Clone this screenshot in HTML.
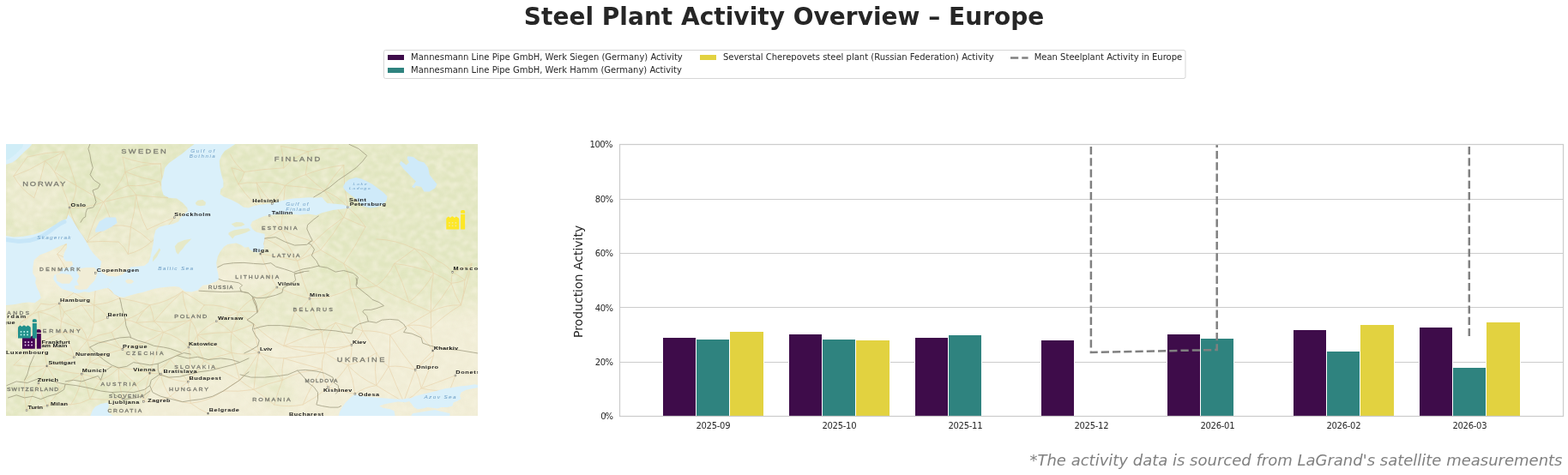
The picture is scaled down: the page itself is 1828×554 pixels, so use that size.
<!DOCTYPE html>
<html lang="en">
<head>
<meta charset="utf-8">
<title>Steel Plant Activity Overview – Europe</title>
<style>
html,body{margin:0;padding:0;background:#ffffff;}
body{width:1828px;height:554px;overflow:hidden;}
svg{display:block;}
text{font-family:"DejaVu Sans","Liberation Sans",sans-serif;fill:#262626;}
.ttl{font-size:28px;font-weight:bold;}
.tk{font-size:10px;}
.lg{font-size:10px;}
.yl{font-size:14px;}
.mc{font-family:"Liberation Sans",sans-serif;fill:#7a7a70;stroke:#7a7a70;stroke-width:0.25px;}
.ct{font-family:"Liberation Sans",sans-serif;fill:#1a1a1a;font-weight:bold;}
.wt{font-family:"Liberation Sans",sans-serif;fill:#6f9fc6;font-style:italic;}
.ft{font-size:18px;font-style:italic;fill:#808080;}
</style>
</head>
<body>
<svg width="1828" height="554" viewBox="0 0 1828 554">
<defs>
<clipPath id="axclip"><rect x="722.5" y="168.5" width="1100.0" height="317.0"/></clipPath>
<clipPath id="mapclip"><rect x="7" y="168" width="550" height="317"/></clipPath>
<filter id="noise" x="0" y="0" width="100%" height="100%" color-interpolation-filters="sRGB"><feTurbulence type="fractalNoise" baseFrequency="0.12 0.16" numOctaves="3" seed="7" result="n"/><feColorMatrix in="n" type="matrix" values="0 0 0 0 0.965  0 0 0 0 0.953  0 0 0 0 0.875  1.5 0 0 0 -0.55"/><feGaussianBlur stdDeviation="0.8"/></filter>
<filter id="blur0" x="-5%" y="-5%" width="110%" height="110%"><feGaussianBlur stdDeviation="0.35"/></filter>
<filter id="blur05" x="-5%" y="-5%" width="110%" height="110%"><feGaussianBlur stdDeviation="0.5"/></filter>
<filter id="blur4" x="-20%" y="-20%" width="140%" height="140%"><feGaussianBlur stdDeviation="5"/></filter>
<filter id="blur1" x="-5%" y="-5%" width="110%" height="110%"><feGaussianBlur stdDeviation="0.7"/></filter>
<filter id="blur8" x="-10%" y="-10%" width="120%" height="120%"><feGaussianBlur stdDeviation="9"/></filter>
</defs>
<rect x="0" y="0" width="1828" height="554" fill="#ffffff"/>
<text x="610.8" y="28.5" textLength="606.5" lengthAdjust="spacing" class="ttl">Steel Plant Activity Overview – Europe</text>
<g id="legend">
<rect x="447.5" y="58.5" width="934.5" height="33" rx="2" ry="2" fill="#ffffff" stroke="#cccccc" stroke-opacity="0.8" stroke-width="1"/>
<rect x="451.5" y="63.5" width="20" height="7" fill="#3e0c4a" stroke="#fff" stroke-width="1"/>
<rect x="451.5" y="78.5" width="20" height="7" fill="#2f837f" stroke="#fff" stroke-width="1"/>
<rect x="815.5" y="63.5" width="20" height="7" fill="#e2d240" stroke="#fff" stroke-width="1"/>
<path d="M1178,67.4 L1198.6,67.4" fill="none" stroke="#808080" stroke-width="2.5" stroke-dasharray="9.25 4"/>
<text x="479.1" y="70" class="lg">Mannesmann Line Pipe GmbH, Werk Siegen (Germany) Activity</text>
<text x="479.1" y="85" class="lg">Mannesmann Line Pipe GmbH, Werk Hamm (Germany) Activity</text>
<text x="842.9" y="70" class="lg">Severstal Cherepovets steel plant (Russian Federation) Activity</text>
<text x="1205.7" y="70" class="lg">Mean Steelplant Activity in Europe</text>
</g>
<g id="map" clip-path="url(#mapclip)">
<rect x="7" y="168" width="550" height="317" fill="#f1edd6"/>
<g filter="url(#blur8)"><path d="M-30.0,140.0 L600.0,140.0 L600.0,330.0 L520.0,338.0 L440.0,342.0 L400.0,338.0 L360.0,328.0 L330.0,312.0 L300.0,305.0 L250.0,305.0 L180.0,305.0 L120.0,300.0 L100.0,282.0 L-30.0,282.0Z" fill="#e1e6c0" /></g>
<g filter="url(#blur8)" opacity="0.65"><path d="M330.0,318.0 L440.0,335.0 L450.0,360.0 L420.0,385.0 L380.0,392.0 L330.0,390.0 L300.0,380.0 L290.0,350.0 L300.0,325.0Z" fill="#e1e6c0" /><path d="M-20.0,425.0 L60.0,430.0 L120.0,445.0 L170.0,450.0 L160.0,470.0 L120.0,478.0 L60.0,472.0 L20.0,500.0 L-20.0,500.0Z" fill="#e1e6c0" /><path d="M280.0,415.0 L310.0,420.0 L335.0,440.0 L345.0,470.0 L320.0,475.0 L300.0,450.0 L275.0,430.0Z" fill="#e1e6c0" /><path d="M440.0,335.0 L600.0,325.0 L600.0,350.0 L520.0,365.0 L460.0,370.0Z" fill="#e1e6c0" /></g>
<g filter="url(#blur8)" opacity="0.6"><path d="M-30.0,345.0 L60.0,348.0 L130.0,346.0 L250.0,342.0 L300.0,335.0 L300.0,395.0 L270.0,420.0 L250.0,440.0 L200.0,436.0 L180.0,450.0 L120.0,455.0 L60.0,450.0 L-30.0,450.0Z" fill="#e1e6c0" /><path d="M-30.0,430.0 L60.0,432.0 L130.0,440.0 L175.0,448.0 L170.0,468.0 L120.0,478.0 L60.0,474.0 L20.0,500.0 L-30.0,500.0Z" fill="#e1e6c0" /></g>
<g filter="url(#blur4)" opacity="0.5"><path d="M100.0,255.0 L215.0,235.0 L222.0,260.0 L182.0,300.0 L140.0,322.0 L115.0,310.0 L95.0,270.0Z" fill="#f1edd6" /><path d="M10.0,195.0 L40.0,185.0 L70.0,200.0 L75.0,235.0 L55.0,262.0 L25.0,268.0 L8.0,250.0Z" fill="#f1edd6" /><path d="M255.0,247.0 L372.0,250.0 L378.0,300.0 L345.0,338.0 L255.0,338.0Z" fill="#f1edd6" /><path d="M258.0,224.0 L378.0,226.0 L378.0,240.0 L290.0,245.0 L258.0,234.0Z" fill="#f1edd6" /></g>
<rect x="7" y="168" width="550" height="317" fill="#f6f3df" filter="url(#noise)"/>
<g id="roads" fill="none" stroke="#e6cca2" stroke-width="0.9" stroke-linecap="round" opacity="0.6" filter="url(#blur05)"><path d="M81.0,242.1 Q75.1,220.1 63.5,200.5"/><path d="M81.0,242.1 Q88.1,230.3 88.9,216.4"/><path d="M81.0,242.1 Q101.6,243.5 120.7,235.5"/><path d="M81.0,242.1 Q86.4,264.7 101.6,282.1"/><path d="M81.0,242.1 Q73.8,263.2 76.2,285.3"/><path d="M203.3,253.8 Q191.8,269.9 176.3,282.1"/><path d="M203.3,253.8 Q187.1,260.2 171.5,267.8"/><path d="M317.3,237.4 Q306.7,226.4 299.1,213.2"/><path d="M317.3,237.4 Q326.4,228.0 332.4,216.4"/><path d="M314.1,251.3 Q292.3,236.7 277.9,214.8"/><path d="M314.1,251.3 Q302.6,233.8 299.1,213.2"/><path d="M314.1,251.3 Q322.2,258.5 327.6,267.8"/><path d="M405.5,241.8 Q394.5,228.6 378.5,222.8"/><path d="M405.5,241.8 Q400.2,217.5 400.7,192.6"/><path d="M405.5,241.8 Q402.9,247.6 400.7,253.5"/><path d="M405.5,241.8 Q417.7,251.5 426.1,264.6"/><path d="M303.8,296.1 Q311.3,316.6 322.9,335.1"/><path d="M303.8,296.1 Q308.2,287.6 308.6,278.1"/><path d="M303.8,296.1 Q325.6,298.6 346.7,304.3"/><path d="M111.2,318.6 Q89.6,306.2 66.7,296.4"/><path d="M111.2,318.6 Q99.5,331.2 85.8,341.5"/><path d="M111.2,318.6 Q122.9,335.8 139.7,347.8"/><path d="M111.2,318.6 Q112.3,337.3 109.6,355.8"/><path d="M322.9,335.1 Q341.2,343.9 361.0,348.3"/><path d="M322.9,335.1 Q311.1,345.1 295.9,347.8"/><path d="M322.9,335.1 Q309.0,347.3 300.6,363.7"/><path d="M361.0,348.3 Q352.2,326.9 346.7,304.3"/><path d="M361.0,348.3 Q354.4,358.4 343.5,363.7"/><path d="M361.0,348.3 Q386.3,348.6 408.6,336.7"/><path d="M361.0,348.3 Q365.3,368.9 375.3,387.5"/><path d="M527.7,317.5 Q520.6,308.8 510.3,304.3"/><path d="M527.7,317.5 Q535.3,321.5 542.0,326.6"/><path d="M527.7,317.5 Q539.6,314.2 550.0,307.5"/><path d="M527.7,317.5 Q525.9,323.8 526.1,330.4"/><path d="M69.1,353.9 Q58.4,356.8 47.6,354.2"/><path d="M69.1,353.9 Q57.9,361.6 44.5,363.7"/><path d="M69.1,353.9 Q71.6,359.0 74.6,363.7"/><path d="M69.1,353.9 Q71.2,364.2 71.5,374.8"/><path d="M69.1,353.9 Q77.6,347.9 85.8,341.5"/><path d="M125.5,370.4 Q117.8,374.2 109.6,376.4"/><path d="M125.5,370.4 Q119.5,360.9 109.6,355.8"/><path d="M252.2,374.8 Q265.2,369.5 277.9,363.7"/><path d="M252.2,374.8 Q262.0,379.9 270.0,387.5"/><path d="M252.2,374.8 Q239.8,380.8 230.3,390.7"/><path d="M142.9,407.4 Q159.4,420.7 174.7,435.3"/><path d="M142.9,407.4 Q134.0,399.1 130.2,387.5"/><path d="M142.9,407.4 Q168.6,402.0 190.6,387.5"/><path d="M142.9,407.4 Q123.6,397.0 101.6,397.1"/><path d="M142.9,407.4 Q122.6,411.9 104.8,422.6"/><path d="M219.9,405.0 Q223.5,425.2 219.2,445.2"/><path d="M219.9,405.0 Q219.3,389.0 222.3,373.2"/><path d="M219.9,405.0 Q207.7,392.1 190.6,387.5"/><path d="M219.9,405.0 Q227.0,399.2 230.3,390.7"/><path d="M219.9,405.0 Q209.3,412.3 198.5,419.5"/><path d="M219.9,405.0 Q229.2,412.9 238.2,421.1"/><path d="M86.5,416.8 Q70.9,422.7 54.8,426.9"/><path d="M86.5,416.8 Q83.0,400.1 71.5,387.5"/><path d="M86.5,416.8 Q67.7,406.3 47.6,398.6"/><path d="M86.5,416.8 Q93.2,406.2 101.6,397.1"/><path d="M54.8,426.9 Q74.3,434.7 95.3,436.1"/><path d="M54.8,426.9 Q50.6,437.3 44.9,446.9"/><path d="M54.8,426.9 Q53.4,412.2 47.6,398.6"/><path d="M54.8,426.9 Q40.9,433.9 28.6,443.3"/><path d="M54.8,426.9 Q63.4,440.1 69.9,454.4"/><path d="M54.8,426.9 Q35.3,428.8 15.9,425.8"/><path d="M95.3,436.1 Q81.2,443.4 69.9,454.4"/><path d="M95.3,436.1 Q106.8,438.4 117.5,443.3"/><path d="M95.3,436.1 Q100.6,429.8 104.8,422.6"/><path d="M95.3,436.1 Q93.8,455.7 82.6,471.9"/><path d="M95.3,436.1 Q102.1,450.2 104.8,465.5"/><path d="M174.7,435.3 Q181.0,435.6 187.4,436.1"/><path d="M174.7,435.3 Q169.7,451.6 167.5,468.4"/><path d="M174.7,435.3 Q180.6,410.8 190.6,387.5"/><path d="M174.7,435.3 Q156.8,429.7 138.2,429.0"/><path d="M174.7,435.3 Q167.3,442.4 158.8,448.1"/><path d="M174.7,435.3 Q188.2,429.9 198.5,419.5"/><path d="M187.4,436.1 Q202.1,444.9 219.2,445.2"/><path d="M187.4,436.1 Q177.3,452.2 167.5,468.4"/><path d="M187.4,436.1 Q191.4,426.8 198.5,419.5"/><path d="M187.4,436.1 Q189.7,450.6 198.5,462.3"/><path d="M219.2,445.2 Q210.2,431.2 198.5,419.5"/><path d="M219.2,445.2 Q230.2,434.4 238.2,421.1"/><path d="M219.2,445.2 Q208.4,453.3 198.5,462.3"/><path d="M219.2,445.2 Q221.3,457.7 222.3,470.3"/><path d="M44.9,446.9 Q48.0,460.8 55.1,473.1"/><path d="M44.9,446.9 Q36.0,462.0 31.0,478.7"/><path d="M55.1,473.1 Q42.8,474.9 31.0,478.7"/><path d="M55.1,473.1 Q63.5,464.5 69.9,454.4"/><path d="M55.1,473.1 Q68.7,469.0 82.6,471.9"/><path d="M31.0,478.7 Q27.1,461.2 28.6,443.3"/><path d="M143.7,465.5 Q137.7,447.8 138.2,429.0"/><path d="M143.7,465.5 Q149.0,454.8 158.8,448.1"/><path d="M143.7,465.5 Q124.3,466.8 104.8,465.5"/><path d="M167.5,468.4 Q163.7,458.0 158.8,448.1"/><path d="M167.5,468.4 Q183.7,468.9 198.5,462.3"/><path d="M242.7,482.2 Q231.8,477.5 222.3,470.3"/><path d="M301.9,411.1 Q283.4,402.7 270.0,387.5"/><path d="M301.9,411.1 Q297.7,394.7 295.9,378.0"/><path d="M301.9,411.1 Q286.0,414.9 270.0,411.5"/><path d="M301.9,411.1 Q292.2,428.2 279.5,443.3"/><path d="M301.9,411.1 Q315.5,418.2 330.8,417.9"/><path d="M301.9,411.1 Q316.3,426.6 329.2,443.3"/><path d="M301.9,411.1 Q297.2,432.5 295.9,454.4"/><path d="M409.9,402.3 Q394.5,406.8 378.5,405.0"/><path d="M409.9,402.3 Q401.0,389.0 391.2,376.4"/><path d="M409.9,402.3 Q418.6,395.8 422.9,385.9"/><path d="M409.9,402.3 Q394.6,408.2 378.5,411.5"/><path d="M409.9,402.3 Q411.0,414.7 405.5,425.8"/><path d="M504.7,409.0 Q493.7,419.5 484.1,431.4"/><path d="M504.7,409.0 Q493.2,391.1 475.3,379.6"/><path d="M504.7,409.0 Q503.0,395.9 502.3,382.8"/><path d="M504.7,409.0 Q505.4,411.8 505.5,414.7"/><path d="M484.1,431.4 Q468.0,412.0 454.7,390.7"/><path d="M484.1,431.4 Q469.0,425.8 453.1,427.4"/><path d="M484.1,431.4 Q489.1,441.6 491.2,452.8"/><path d="M484.1,431.4 Q477.4,450.1 470.6,468.7"/><path d="M484.1,431.4 Q493.9,422.0 505.5,414.7"/><path d="M530.9,438.0 Q511.1,445.5 491.2,452.8"/><path d="M530.9,438.0 Q527.8,446.3 524.6,454.4"/><path d="M413.9,459.5 Q398.0,456.1 382.4,451.7"/><path d="M413.9,459.5 Q412.3,442.0 405.5,425.8"/><path d="M413.9,459.5 Q425.0,451.2 438.8,449.6"/><path d="M382.4,451.7 Q377.5,441.6 375.3,430.6"/><path d="M382.4,451.7 Q396.0,440.6 405.5,425.8"/><path d="M382.4,451.7 Q369.1,463.7 353.1,471.9"/><path d="M31.8,183.1 Q52.8,177.4 74.6,176.7"/><path d="M31.8,183.1 Q24.0,194.3 15.9,205.3"/><path d="M52.4,187.8 Q63.8,182.9 74.6,176.7"/><path d="M52.4,187.8 Q59.3,193.0 63.5,200.5"/><path d="M52.4,187.8 Q35.1,198.6 15.9,205.3"/><path d="M52.4,187.8 Q48.0,209.8 39.7,230.7"/><path d="M74.6,176.7 Q68.9,188.5 63.5,200.5"/><path d="M74.6,176.7 Q83.3,196.0 88.9,216.4"/><path d="M63.5,200.5 Q75.8,209.1 88.9,216.4"/><path d="M88.9,216.4 Q105.0,225.5 120.7,235.5"/><path d="M120.7,235.5 Q137.2,220.8 146.1,200.5"/><path d="M120.7,235.5 Q132.4,222.0 149.3,216.4"/><path d="M120.7,235.5 Q139.6,230.7 158.8,227.5"/><path d="M120.7,235.5 Q108.4,257.7 101.6,282.1"/><path d="M120.7,235.5 Q126.4,249.2 131.8,263.1"/><path d="M142.9,183.1 Q145.1,191.7 146.1,200.5"/><path d="M142.9,183.1 Q164.4,191.4 187.4,191.0"/><path d="M146.1,200.5 Q148.6,208.3 149.3,216.4"/><path d="M146.1,200.5 Q165.6,190.7 187.4,191.0"/><path d="M146.1,200.5 Q165.3,208.2 185.8,211.6"/><path d="M149.3,216.4 Q154.7,221.4 158.8,227.5"/><path d="M149.3,216.4 Q168.1,218.2 185.8,211.6"/><path d="M158.8,227.5 Q177.0,229.6 195.3,230.7"/><path d="M158.8,227.5 Q157.4,246.4 152.5,264.6"/><path d="M158.8,227.5 Q161.6,248.8 171.5,267.8"/><path d="M187.4,191.0 Q187.8,211.6 195.3,230.7"/><path d="M185.8,211.6 Q189.7,221.6 195.3,230.7"/><path d="M15.9,205.3 Q24.4,221.2 39.7,230.7"/><path d="M270.0,195.8 Q272.9,205.7 277.9,214.8"/><path d="M270.0,195.8 Q277.7,197.0 284.8,200.5"/><path d="M277.9,214.8 Q283.1,208.5 284.8,200.5"/><path d="M277.9,214.8 Q288.3,211.9 299.1,213.2"/><path d="M268.4,179.9 Q274.2,192.1 284.8,200.5"/><path d="M284.8,200.5 Q307.7,197.0 330.8,195.8"/><path d="M299.1,213.2 Q316.1,210.6 332.4,216.4"/><path d="M330.8,195.8 Q342.8,182.8 359.4,176.7"/><path d="M330.8,195.8 Q331.0,182.8 327.6,170.4"/><path d="M332.4,216.4 Q343.0,207.6 356.2,203.7"/><path d="M332.4,216.4 Q355.8,217.2 378.5,222.8"/><path d="M332.4,216.4 Q330.2,242.1 327.6,267.8"/><path d="M359.4,176.7 Q358.8,190.3 356.2,203.7"/><path d="M359.4,176.7 Q376.6,171.7 394.3,173.5"/><path d="M359.4,176.7 Q343.5,173.5 327.6,170.4"/><path d="M356.2,203.7 Q367.1,213.6 378.5,222.8"/><path d="M356.2,203.7 Q377.7,195.2 400.7,192.6"/><path d="M378.5,222.8 Q387.5,206.1 400.7,192.6"/><path d="M378.5,222.8 Q389.4,238.2 400.7,253.5"/><path d="M101.6,282.1 Q119.9,280.8 138.2,282.1"/><path d="M101.6,282.1 Q115.0,269.9 131.8,263.1"/><path d="M101.6,282.1 Q88.8,282.6 76.2,285.3"/><path d="M138.2,282.1 Q145.4,288.0 149.3,296.4"/><path d="M152.5,264.6 Q165.6,271.6 176.3,282.1"/><path d="M152.5,264.6 Q151.0,280.5 149.3,296.4"/><path d="M152.5,264.6 Q142.3,262.1 131.8,263.1"/><path d="M176.3,282.1 Q164.6,292.6 149.3,296.4"/><path d="M66.7,296.4 Q72.0,291.3 76.2,285.3"/><path d="M66.7,296.4 Q81.1,316.9 85.8,341.5"/><path d="M308.6,278.1 Q318.6,273.9 327.6,267.8"/><path d="M308.6,278.1 Q330.3,287.4 346.7,304.3"/><path d="M365.8,282.1 Q370.1,286.6 373.7,291.6"/><path d="M365.8,282.1 Q381.9,266.2 400.7,253.5"/><path d="M365.8,282.1 Q346.1,276.6 327.6,267.8"/><path d="M365.8,282.1 Q358.5,295.2 346.7,304.3"/><path d="M373.7,291.6 Q388.8,273.7 400.7,253.5"/><path d="M373.7,291.6 Q387.5,299.1 400.7,307.5"/><path d="M373.7,291.6 Q360.1,297.9 346.7,304.3"/><path d="M400.7,253.5 Q413.2,259.6 426.1,264.6"/><path d="M426.1,264.6 Q414.7,286.8 400.7,307.5"/><path d="M400.7,307.5 Q408.4,321.1 408.6,336.7"/><path d="M400.7,307.5 Q419.9,320.3 438.8,333.5"/><path d="M483.3,290.1 Q498.8,293.4 510.3,304.3"/><path d="M483.3,290.1 Q462.3,279.6 438.8,278.9"/><path d="M483.3,290.1 Q471.7,299.3 459.5,307.5"/><path d="M483.3,290.1 Q497.6,301.9 505.5,318.6"/><path d="M542.0,326.6 Q545.4,316.8 550.0,307.5"/><path d="M542.0,326.6 Q534.5,330.0 526.1,330.4"/><path d="M542.0,326.6 Q541.5,341.5 537.3,355.8"/><path d="M459.5,307.5 Q483.3,309.7 505.5,318.6"/><path d="M459.5,307.5 Q452.5,323.2 438.8,333.5"/><path d="M459.5,307.5 Q469.8,329.4 476.9,352.6"/><path d="M327.6,267.8 Q335.3,287.1 346.7,304.3"/><path d="M550.0,307.5 Q544.0,331.7 537.3,355.8"/><path d="M505.5,318.6 Q494.8,338.7 476.9,352.6"/><path d="M505.5,318.6 Q516.5,323.3 526.1,330.4"/><path d="M505.5,318.6 Q501.0,341.0 502.3,363.7"/><path d="M47.6,354.2 Q38.7,368.5 23.8,376.4"/><path d="M44.5,363.7 Q59.3,366.1 71.5,374.8"/><path d="M44.5,363.7 Q32.5,367.3 23.8,376.4"/><path d="M44.5,363.7 Q47.9,381.0 47.6,398.6"/><path d="M74.6,363.7 Q73.7,369.5 71.5,374.8"/><path d="M74.6,363.7 Q85.4,361.0 95.3,355.8"/><path d="M74.6,363.7 Q84.0,374.2 95.3,382.8"/><path d="M71.5,374.8 Q83.0,379.8 95.3,382.8"/><path d="M71.5,374.8 Q69.8,381.2 71.5,387.5"/><path d="M95.3,355.8 Q102.9,365.7 109.6,376.4"/><path d="M95.3,355.8 Q102.4,357.7 109.6,355.8"/><path d="M85.8,341.5 Q98.3,347.6 109.6,355.8"/><path d="M109.6,376.4 Q109.5,366.1 109.6,355.8"/><path d="M109.6,376.4 Q108.2,387.7 101.6,397.1"/><path d="M95.3,382.8 Q84.0,388.1 71.5,387.5"/><path d="M95.3,382.8 Q100.2,389.1 101.6,397.1"/><path d="M71.5,387.5 Q59.8,393.7 47.6,398.6"/><path d="M71.5,387.5 Q87.7,388.5 101.6,397.1"/><path d="M139.7,347.8 Q125.4,354.5 109.6,355.8"/><path d="M139.7,347.8 Q157.4,350.8 174.7,355.8"/><path d="M146.1,373.2 Q139.8,382.2 130.2,387.5"/><path d="M146.1,373.2 Q152.8,373.4 158.8,376.4"/><path d="M146.1,373.2 Q162.5,367.9 174.7,355.8"/><path d="M179.5,374.8 Q201.0,378.3 222.3,373.2"/><path d="M179.5,374.8 Q186.7,379.7 190.6,387.5"/><path d="M179.5,374.8 Q169.1,375.7 158.8,376.4"/><path d="M179.5,374.8 Q194.9,356.2 212.8,339.9"/><path d="M179.5,374.8 Q178.3,365.0 174.7,355.8"/><path d="M222.3,373.2 Q207.2,382.1 190.6,387.5"/><path d="M222.3,373.2 Q231.9,365.9 238.2,355.8"/><path d="M222.3,373.2 Q214.0,357.6 212.8,339.9"/><path d="M222.3,373.2 Q228.3,381.0 230.3,390.7"/><path d="M130.2,387.5 Q115.1,389.7 101.6,397.1"/><path d="M190.6,387.5 Q173.5,385.3 158.8,376.4"/><path d="M158.8,376.4 Q164.3,364.2 174.7,355.8"/><path d="M238.2,355.8 Q225.8,347.3 212.8,339.9"/><path d="M238.2,355.8 Q259.0,354.9 277.9,363.7"/><path d="M212.8,339.9 Q195.8,352.6 174.7,355.8"/><path d="M277.9,363.7 Q275.4,376.1 270.0,387.5"/><path d="M277.9,363.7 Q285.1,353.7 295.9,347.8"/><path d="M277.9,363.7 Q289.3,362.5 300.6,363.7"/><path d="M277.9,363.7 Q286.7,371.1 295.9,378.0"/><path d="M270.0,387.5 Q250.0,387.4 230.3,390.7"/><path d="M270.0,387.5 Q283.1,383.3 295.9,378.0"/><path d="M270.0,387.5 Q267.8,399.5 270.0,411.5"/><path d="M230.3,390.7 Q230.4,406.9 238.2,421.1"/><path d="M230.3,390.7 Q248.9,403.3 270.0,411.5"/><path d="M23.8,376.4 Q19.9,384.7 19.1,393.9"/><path d="M23.8,376.4 Q38.0,385.1 47.6,398.6"/><path d="M47.6,398.6 Q30.4,410.7 15.9,425.8"/><path d="M101.6,397.1 Q106.4,409.5 104.8,422.6"/><path d="M295.9,347.8 Q298.0,355.8 300.6,363.7"/><path d="M295.9,378.0 Q310.8,394.2 330.8,403.4"/><path d="M330.8,403.4 Q354.6,405.7 378.5,405.0"/><path d="M330.8,403.4 Q336.4,383.3 343.5,363.7"/><path d="M330.8,403.4 Q352.3,393.4 375.3,387.5"/><path d="M330.8,403.4 Q353.9,411.8 378.5,411.5"/><path d="M378.5,405.0 Q381.6,389.3 391.2,376.4"/><path d="M378.5,405.0 Q375.3,396.5 375.3,387.5"/><path d="M378.5,405.0 Q378.6,408.3 378.5,411.5"/><path d="M343.5,363.7 Q357.4,378.2 375.3,387.5"/><path d="M391.2,376.4 Q381.9,380.1 375.3,387.5"/><path d="M391.2,376.4 Q407.2,380.6 422.9,385.9"/><path d="M408.6,336.7 Q424.0,337.4 438.8,333.5"/><path d="M408.6,336.7 Q415.3,361.4 422.9,385.9"/><path d="M438.8,333.5 Q457.4,344.1 476.9,352.6"/><path d="M476.9,352.6 Q489.9,357.6 502.3,363.7"/><path d="M475.3,379.6 Q489.2,377.6 502.3,382.8"/><path d="M475.3,379.6 Q488.7,371.5 502.3,363.7"/><path d="M475.3,379.6 Q465.3,385.8 454.7,390.7"/><path d="M502.3,382.8 Q518.1,367.1 537.3,355.8"/><path d="M502.3,382.8 Q502.7,373.2 502.3,363.7"/><path d="M526.1,330.4 Q529.9,343.8 537.3,355.8"/><path d="M526.1,330.4 Q515.6,348.0 502.3,363.7"/><path d="M537.3,355.8 Q518.7,355.0 502.3,363.7"/><path d="M454.7,390.7 Q439.3,385.2 422.9,385.9"/><path d="M454.7,390.7 Q454.9,409.1 453.1,427.4"/><path d="M422.9,385.9 Q430.9,398.7 438.8,411.5"/><path d="M117.5,443.3 Q129.4,438.5 138.2,429.0"/><path d="M117.5,443.3 Q109.3,453.3 104.8,465.5"/><path d="M104.8,422.6 Q121.2,427.5 138.2,429.0"/><path d="M138.2,429.0 Q147.8,439.2 158.8,448.1"/><path d="M238.2,421.1 Q253.8,415.2 270.0,411.5"/><path d="M238.2,421.1 Q258.3,433.2 279.5,443.3"/><path d="M270.0,411.5 Q275.7,427.1 279.5,443.3"/><path d="M260.4,456.0 Q243.3,468.2 222.3,470.3"/><path d="M260.4,456.0 Q269.6,449.0 279.5,443.3"/><path d="M260.4,456.0 Q278.3,457.2 295.9,454.4"/><path d="M198.5,462.3 Q209.3,469.5 222.3,470.3"/><path d="M82.6,471.9 Q94.4,471.3 104.8,465.5"/><path d="M279.5,443.3 Q287.2,449.6 295.9,454.4"/><path d="M330.8,417.9 Q327.9,430.5 329.2,443.3"/><path d="M330.8,417.9 Q354.8,416.0 378.5,411.5"/><path d="M330.8,417.9 Q353.0,424.5 375.3,430.6"/><path d="M329.2,443.3 Q350.8,431.5 375.3,430.6"/><path d="M329.2,443.3 Q323.8,457.4 319.7,471.9"/><path d="M329.2,443.3 Q311.9,446.8 295.9,454.4"/><path d="M378.5,411.5 Q374.6,420.7 375.3,430.6"/><path d="M378.5,411.5 Q391.1,420.3 405.5,425.8"/><path d="M375.3,430.6 Q362.2,450.2 353.1,471.9"/><path d="M405.5,425.8 Q419.5,441.4 438.8,449.6"/><path d="M405.5,425.8 Q423.5,421.8 438.8,411.5"/><path d="M438.8,449.6 Q446.6,439.0 453.1,427.4"/><path d="M438.8,449.6 Q454.6,459.3 470.6,468.7"/><path d="M438.8,449.6 Q436.0,430.6 438.8,411.5"/><path d="M453.1,427.4 Q461.3,448.3 470.6,468.7"/><path d="M453.1,427.4 Q443.7,421.5 438.8,411.5"/><path d="M491.2,452.8 Q482.3,462.6 470.6,468.7"/><path d="M491.2,452.8 Q507.7,457.3 524.6,454.4"/><path d="M491.2,452.8 Q499.6,434.2 505.5,414.7"/><path d="M353.1,471.9 Q336.4,475.5 319.7,471.9"/><path d="M319.7,471.9 Q308.1,462.8 295.9,454.4"/></g>
<g filter="url(#blur1)">
<path d="M0.0,164.0 L37.3,168.3 L34.1,171.9 L28.6,176.7 L23.8,181.5 L19.1,186.2 L14.3,189.4 L7.1,191.8 L0.0,191.8Z" fill="#daf0fa" />
<path d="M226.3,160.0 L226.3,168.3 L219.1,173.5 L212.8,179.1 L204.9,184.6 L196.9,190.2 L192.2,195.8 L190.6,203.7 L188.2,211.6 L188.2,219.6 L190.6,227.5 L196.9,230.7 L206.0,231.6 L213.2,236.7 L218.3,242.4 L219.0,246.1 L214.7,249.7 L210.3,254.0 L208.2,258.3 L201.7,261.2 L193.0,262.7 L185.8,264.8 L181.4,268.5 L179.5,275.8 L178.7,283.7 L177.1,291.6 L175.5,299.6 L173.1,305.9 L168.3,309.9 L160.4,310.7 L152.5,311.5 L147.7,315.5 L142.9,320.2 L135.0,322.6 L128.0,330.0 L125.7,335.9 L130.0,338.8 L132.9,343.1 L138.7,346.0 L144.5,346.7 L151.7,344.6 L158.9,342.4 L166.1,340.9 L173.4,338.8 L180.0,336.8 L187.2,335.6 L194.4,334.8 L203.1,334.1 L208.9,334.8 L211.8,337.0 L216.1,339.9 L223.3,340.6 L230.6,338.5 L233.5,335.6 L236.3,332.7 L242.1,332.0 L247.9,329.8 L252.2,328.3 L255.1,325.5 L254.4,319.7 L253.0,313.9 L252.2,306.7 L253.7,299.4 L256.6,293.7 L260.9,287.9 L265.2,285.0 L269.6,284.3 L275.3,283.6 L281.1,285.8 L285.5,288.7 L289.8,288.0 L291.2,290.8 L295.6,293.7 L301.4,294.4 L307.1,290.8 L307.9,287.0 L307.1,284.3 L308.6,278.6 L308.6,272.8 L304.2,272.1 L298.5,270.6 L294.1,267.0 L292.0,262.7 L294.1,258.3 L299.9,255.5 L307.1,252.6 L312.9,251.1 L318.7,250.4 L327.4,249.7 L338.9,249.7 L350.5,250.4 L359.4,249.5 L368.9,251.1 L375.3,248.2 L388.0,245.0 L400.7,243.4 L408.6,242.6 L408.6,241.0 L405.5,240.5 L399.1,238.6 L391.2,237.8 L381.6,237.1 L378.5,233.9 L375.3,229.9 L368.9,230.7 L360.0,230.2 L350.5,230.9 L341.8,231.6 L333.1,233.1 L324.5,235.2 L317.2,237.4 L310.0,238.1 L302.8,238.8 L295.6,240.3 L289.8,242.4 L284.0,241.7 L278.2,237.4 L269.6,233.1 L260.9,229.4 L256.6,226.6 L257.3,220.8 L260.4,218.0 L260.4,211.6 L258.1,203.7 L256.5,195.8 L255.7,187.8 L258.1,181.5 L262.0,175.9 L268.4,171.9 L273.9,168.3 L273.9,160.0Z" fill="#daf0fa" />
<path d="M0.0,275.0 L7.0,275.0 L15.9,276.6 L27.0,275.8 L39.7,273.4 L50.8,269.4 L60.3,264.6 L69.9,259.9 L77.8,255.1 L79.4,250.4 L82.6,253.5 L86.6,259.9 L91.3,267.8 L96.9,275.8 L101.6,283.7 L104.8,290.1 L109.6,296.4 L114.3,301.2 L118.3,305.1 L117.5,309.1 L116.7,313.9 L119.1,318.6 L125.5,321.8 L135.0,322.6 L128.0,330.0 L125.7,335.9 L121.4,336.6 L115.6,338.1 L109.8,339.5 L104.0,340.9 L98.2,340.2 L92.5,341.7 L86.7,341.7 L83.8,340.2 L78.0,338.8 L72.2,337.0 L67.9,333.0 L63.6,328.0 L62.1,324.9 L63.6,320.6 L69.3,319.1 L72.2,313.3 L80.9,311.9 L85.2,309.0 L83.8,304.7 L76.6,304.7 L73.7,300.3 L75.1,294.6 L78.0,288.8 L78.0,283.7 L69.3,287.3 L57.8,293.1 L46.2,297.4 L39.7,303.2 L38.3,311.9 L38.3,319.1 L41.9,324.3 L41.2,330.1 L43.3,335.9 L46.2,341.7 L47.7,347.4 L44.8,350.3 L40.5,353.2 L33.2,352.5 L26.0,353.2 L18.8,354.7 L13.0,355.4 L7.2,356.1 L0.0,356.0Z" fill="#daf0fa" />
<path d="M394.4,486.6 L395.9,480.8 L398.8,475.0 L403.1,469.2 L408.9,463.5 L413.9,459.8 L420.5,462.0 L429.1,462.7 L437.8,463.5 L446.5,464.2 L455.1,464.9 L462.3,465.6 L469.6,465.6 L476.8,464.2 L479.7,464.9 L478.2,467.8 L472.5,469.2 L463.8,468.5 L455.1,470.0 L447.9,471.4 L442.1,473.6 L446.5,475.7 L455.1,477.2 L459.5,479.3 L460.9,486.6Z" fill="#daf0fa" />
<path d="M478.2,464.9 L484.0,462.0 L492.7,459.8 L501.4,457.7 L510.0,455.5 L518.7,453.3 L527.4,451.9 L536.0,450.5 L544.7,449.7 L553.4,448.3 L557.0,449.0 L557.0,451.9 L550.5,453.3 L543.2,454.8 L537.5,457.7 L536.0,462.0 L537.5,464.9 L533.1,467.8 L528.8,469.2 L527.4,473.6 L521.6,475.0 L514.4,475.0 L510.0,476.5 L504.2,475.7 L498.5,475.0 L492.7,476.5 L486.9,477.2 L482.6,475.0 L479.7,470.7 L476.8,467.8Z" fill="#daf0fa" />
<path d="M478.2,486.6 L481.1,482.2 L489.8,480.8 L498.5,479.3 L507.1,477.9 L511.5,479.3 L518.7,480.8 L524.5,482.2 L524.5,486.6Z" fill="#daf0fa" />
<path d="M104.8,486.2 L108.0,478.2 L111.2,474.3 L117.5,471.1 L125.5,469.5 L127.0,473.5 L125.5,478.2 L127.0,481.4 L133.4,486.2Z" fill="#daf0fa" />
<path d="M399.9,218.0 L402.3,213.2 L407.0,209.3 L415.0,206.9 L421.3,208.5 L427.7,211.6 L434.0,214.8 L440.4,219.6 L446.7,224.3 L451.5,229.1 L450.7,233.9 L446.7,238.6 L438.8,241.8 L430.9,242.6 L422.9,240.2 L418.2,235.5 L413.4,230.7 L407.0,225.9 L402.3,222.0Z" fill="#cfeaf9" />
<path d="M475.3,182.3 L481.7,183.1 L488.0,187.8 L494.4,189.4 L499.2,195.8 L500.7,203.7 L505.5,210.1 L509.5,214.8 L507.1,219.6 L500.7,223.6 L494.4,223.6 L491.2,218.0 L484.9,216.4 L483.3,219.6 L480.1,218.0 L484.9,211.6 L480.1,206.9 L475.3,202.1 L470.6,197.3 L465.8,191.0 L467.4,187.8 L473.7,192.6 L476.9,189.4 L474.5,184.6Z" fill="#cfeaf9" />
<path d="M111.2,267.8 L115.9,258.3 L123.9,253.5 L135.0,253.5 L136.6,259.9 L130.2,264.6 L120.7,269.4 L111.2,271.0Z" fill="#cfeaf9" />
<g filter="url(#blur1)" opacity="0.9"><path d="M7.0,279.5 L14.0,280.5 L22.0,281.6 L34.0,280.6 L43.0,278.0 L51.0,274.5 L58.0,269.5 L64.0,265.0 L70.0,261.0 L75.0,258.5" fill="none" stroke="#c6e6f8" stroke-width="5.0" stroke-linejoin="round" stroke-linecap="round" /><path d="M0.0,160.0 L30.0,160.0 L26.0,172.0 L18.0,180.0 L10.0,186.0 L0.0,188.0Z" fill="#cfedf7" /></g>
<path d="M65.0,320.6 L72.2,319.1 L82.3,320.6 L85.2,324.9 L80.9,330.7 L72.2,330.7 L66.5,327.8Z" fill="#f1edd6" />
<path d="M92.5,313.3 L101.1,311.9 L109.8,311.9 L114.1,316.2 L112.7,322.0 L109.8,327.8 L104.0,333.6 L99.7,336.5 L92.5,333.6 L89.6,327.8 L92.5,322.0 L89.6,317.7Z" fill="#f1edd6" />
<path d="M86.7,333.6 L95.3,332.1 L104.0,334.3 L101.1,337.2 L92.5,337.9 L87.4,336.5Z" fill="#f1edd6" />
<path d="M145.9,327.8 L148.8,325.6 L153.9,326.3 L156.0,328.5 L153.1,330.7 L148.1,330.4Z" fill="#f1edd6" />
<path d="M223.3,278.6 L220.5,281.5 L216.1,285.8 L213.2,290.1 L209.6,293.7 L207.7,296.8 L205.4,294.2 L203.8,287.2 L207.4,282.9 L214.7,280.0Z" fill="#e6e9c8" />
<path d="M185.8,289.3 L187.2,291.5 L182.9,299.4 L180.0,303.1 L177.8,305.2 L178.6,299.4 L182.9,293.7Z" fill="#e6e9c8" />
<path d="M227.7,236.7 L230.6,233.8 L236.3,233.1 L240.0,235.9 L239.2,239.6 L233.5,240.3 L229.1,239.3Z" fill="#e6e9c8" />
<path d="M269.6,261.2 L275.3,259.1 L282.6,259.5 L285.5,262.0 L281.1,264.1 L273.9,264.8Z" fill="#e6e9c8" />
<path d="M266.7,271.3 L272.5,268.5 L281.1,267.0 L289.8,266.3 L292.0,268.5 L286.9,271.3 L279.7,273.5 L273.9,275.0 L271.0,278.6 L268.8,275.7 L266.4,273.5Z" fill="#e6e9c8" />
</g>
<g id="mapborders" filter="url(#blur05)" opacity="0.72">
<path d="M104.8,168.3 L102.9,173.5 L104.8,179.9 L106.1,187.8 L108.3,195.8 L105.1,203.7 L109.6,210.1 L116.7,214.8 L114.3,219.6 L108.0,222.0 L110.4,229.1 L112.0,235.5 L108.8,241.8 L101.6,243.4 L100.0,248.2 L99.7,252.9 L96.9,254.5 L94.0,259.3" fill="none" stroke="#938f74" stroke-width="0.95" stroke-linejoin="round" stroke-linecap="round" />
<path d="M407.0,168.3 L418.2,173.5 L427.7,181.5 L422.9,187.8 L415.0,195.8 L403.9,203.7 L394.3,210.1 L384.8,218.0 L375.3,224.3 L365.8,229.9" fill="none" stroke="#938f74" stroke-width="0.95" stroke-linejoin="round" stroke-linecap="round" />
<path d="M371.3,251.9 L365.8,255.9 L358.6,262.3 L357.8,267.0 L361.0,274.2 L364.2,280.5 L359.4,283.7" fill="none" stroke="#938f74" stroke-width="0.95" stroke-linejoin="round" stroke-linecap="round" />
<path d="M308.6,278.1 L321.3,276.6 L332.4,282.1 L343.5,286.1 L357.8,285.3 L362.6,281.3" fill="none" stroke="#938f74" stroke-width="0.95" stroke-linejoin="round" stroke-linecap="round" />
<path d="M359.4,283.7 L362.6,285.3 L366.5,290.8 L363.4,298.0 L368.9,304.3 L372.1,310.7" fill="none" stroke="#938f74" stroke-width="0.95" stroke-linejoin="round" stroke-linecap="round" />
<path d="M343.5,317.1 L353.1,313.9 L362.6,312.3 L372.1,309.9" fill="none" stroke="#938f74" stroke-width="0.95" stroke-linejoin="round" stroke-linecap="round" />
<path d="M372.1,310.7 L381.6,312.3 L391.2,317.1 L400.7,315.5 L411.8,318.6 L417.4,323.4 L415.0,332.0" fill="none" stroke="#938f74" stroke-width="0.95" stroke-linejoin="round" stroke-linecap="round" />
<path d="M415.0,324.0 L416.6,330.4 L415.0,333.5 L422.9,339.9 L430.9,346.2 L434.0,349.4 L442.0,352.6 L447.5,356.6 L438.8,359.7 L432.5,361.3 L424.5,361.3 L422.9,363.7 L427.7,368.5 L429.3,374.8" fill="none" stroke="#938f74" stroke-width="0.95" stroke-linejoin="round" stroke-linecap="round" />
<path d="M429.3,374.8 L438.8,376.4 L445.2,373.2 L454.7,372.4 L464.2,373.2 L470.6,378.0 L473.7,382.8 L470.6,387.5 L480.1,389.1 L491.2,393.9 L492.8,400.2 L502.3,403.4 L515.0,406.6 L534.1,408.2 L557.1,412.0" fill="none" stroke="#938f74" stroke-width="0.95" stroke-linejoin="round" stroke-linecap="round" />
<path d="M429.3,374.8 L418.2,378.0 L411.8,382.8 L410.2,389.1 L400.7,387.5 L391.2,385.9 L381.6,385.1 L372.1,384.3 L362.6,385.1 L354.6,382.8 L343.5,381.2 L327.6,379.6 L311.8,379.6 L303.8,381.2 L295.9,383.6" fill="none" stroke="#938f74" stroke-width="0.95" stroke-linejoin="round" stroke-linecap="round" />
<path d="M280.0,339.9 L289.5,341.5 L295.9,347.8 L299.1,355.8 L300.6,363.7 L292.7,370.1 L287.9,373.2 L295.9,378.0 L294.3,384.3 L297.5,390.7 L302.2,397.1 L300.6,403.4 L292.7,408.2 L284.8,412.0" fill="none" stroke="#938f74" stroke-width="0.95" stroke-linejoin="round" stroke-linecap="round" />
<path d="M232.0,339.2 L245.0,339.9 L259.5,340.6 L279.7,339.9 L281.1,339.2" fill="none" stroke="#938f74" stroke-width="0.95" stroke-linejoin="round" stroke-linecap="round" />
<path d="M255.1,325.5 L260.9,327.6 L269.6,328.3 L278.2,329.8 L282.6,332.7 L279.7,335.6 L281.1,339.9 L289.8,342.1 L294.1,345.7 L295.6,351.5 L298.5,357.2 L299.9,365.0" fill="none" stroke="#938f74" stroke-width="0.95" stroke-linejoin="round" stroke-linecap="round" />
<path d="M253.7,311.7 L260.9,308.1 L272.5,306.7 L284.0,306.4 L295.6,307.4 L307.1,308.1 L315.8,306.7 L321.6,311.0 L331.7,313.9 L340.4,316.8 L344.7,318.9 L353.4,317.5" fill="none" stroke="#938f74" stroke-width="0.95" stroke-linejoin="round" stroke-linecap="round" />
<path d="M294.1,345.7 L299.9,347.8 L310.0,347.1 L321.6,344.2 L328.8,341.3 L330.2,335.6 L338.9,331.2 L344.7,326.9 L343.2,319.7 L353.4,316.8 L360.0,316.1" fill="none" stroke="#938f74" stroke-width="0.95" stroke-linejoin="round" stroke-linecap="round" />
<path d="M139.7,347.8 L141.3,354.2 L142.1,358.9 L144.5,366.9 L146.1,373.2 L146.9,379.6 L149.3,385.9 L151.7,390.7 L152.5,393.9" fill="none" stroke="#938f74" stroke-width="0.95" stroke-linejoin="round" stroke-linecap="round" />
<path d="M104.8,405.0 L114.3,400.2 L127.0,397.1 L139.7,393.9 L150.9,393.1 L160.4,397.1 L171.5,400.2 L179.5,403.4 L190.6,405.0 L198.5,406.6 L211.2,411.3" fill="none" stroke="#938f74" stroke-width="0.95" stroke-linejoin="round" stroke-linecap="round" />
<path d="M104.8,405.2 L111.2,411.5 L120.7,419.5 L130.2,425.8 L138.2,429.0 L147.7,427.4 L155.6,422.6 L165.2,424.2 L174.7,425.8 L184.2,424.2 L195.3,419.5 L206.4,414.7 L214.4,411.5 L222.3,413.1" fill="none" stroke="#938f74" stroke-width="0.95" stroke-linejoin="round" stroke-linecap="round" />
<path d="M76.2,444.9 L85.8,443.3 L95.3,444.9 L104.8,441.7 L114.3,438.5 L117.5,443.3 L120.7,433.8 L130.2,427.4" fill="none" stroke="#938f74" stroke-width="0.95" stroke-linejoin="round" stroke-linecap="round" />
<path d="M76.2,448.1 L88.9,449.6 L104.8,452.8 L117.5,456.0 L130.2,457.6 L142.9,456.8 L155.6,457.6 L168.3,454.4 L174.7,449.6 L176.3,443.3 L181.0,440.1 L185.8,436.9 L184.2,430.6 L184.2,424.2" fill="none" stroke="#938f74" stroke-width="0.95" stroke-linejoin="round" stroke-linecap="round" />
<path d="M185.8,436.9 L196.9,440.1 L209.6,439.3 L219.2,436.9 L231.9,433.8 L244.6,432.2 L257.3,429.0 L270.0,425.8 L279.5,422.6" fill="none" stroke="#938f74" stroke-width="0.95" stroke-linejoin="round" stroke-linecap="round" />
<path d="M206.4,414.7 L219.2,417.9 L230.3,416.3 L243.0,419.5 L257.3,417.9 L270.0,419.5 L279.5,422.6 L290.0,417.9" fill="none" stroke="#938f74" stroke-width="0.95" stroke-linejoin="round" stroke-linecap="round" />
<path d="M174.7,449.6 L177.9,457.6 L187.4,462.3 L200.1,465.5 L212.8,468.7 L222.3,467.1 L235.0,465.5 L247.7,462.3 L260.4,456.0 L270.0,449.6 L279.5,443.3 L285.9,436.9 L290.0,433.8" fill="none" stroke="#938f74" stroke-width="0.95" stroke-linejoin="round" stroke-linecap="round" />
<path d="M130.2,457.6 L136.6,462.3 L146.1,465.5 L158.8,463.9 L168.3,460.8 L174.7,456.0" fill="none" stroke="#938f74" stroke-width="0.95" stroke-linejoin="round" stroke-linecap="round" />
<path d="M7.9,449.6 L19.1,444.9 L31.8,446.5 L44.5,441.7 L57.2,443.3 L68.3,446.5 L76.2,448.1 L74.6,454.4 L66.7,459.2 L55.6,462.3 L47.6,465.5 L38.1,462.3 L28.6,463.9 L19.1,460.8 L9.5,463.9" fill="none" stroke="#938f74" stroke-width="0.95" stroke-linejoin="round" stroke-linecap="round" />
<path d="M39.7,414.7 L34.9,425.8 L31.8,436.9 L28.6,443.3" fill="none" stroke="#938f74" stroke-width="0.95" stroke-linejoin="round" stroke-linecap="round" />
<path d="M280.0,436.9 L292.7,440.1 L308.6,440.1 L324.5,438.5 L335.6,436.9 L346.7,432.2 L356.2,431.4 L368.9,433.0 L378.5,435.3 L388.0,440.1 L389.6,446.5 L394.3,449.6 L395.1,456.0 L391.2,459.2" fill="none" stroke="#938f74" stroke-width="0.95" stroke-linejoin="round" stroke-linecap="round" />
<path d="M346.7,432.2 L353.1,438.5 L359.4,446.5 L365.8,451.2 L370.5,457.6 L370.5,465.5 L368.9,471.9 L375.3,473.5 L384.8,475.1 L394.3,475.1 L397.5,473.5" fill="none" stroke="#938f74" stroke-width="0.95" stroke-linejoin="round" stroke-linecap="round" />
</g>
<g id="maplabels" filter="url(#blur0)">
<rect x="80.1" y="241.2" width="1.8" height="1.8" fill="#f4f2e6" stroke="#6b6b63" stroke-width="0.5"/>
<rect x="202.4" y="252.9" width="1.8" height="1.8" fill="#f4f2e6" stroke="#6b6b63" stroke-width="0.5"/>
<rect x="316.4" y="236.5" width="1.8" height="1.8" fill="#f4f2e6" stroke="#6b6b63" stroke-width="0.5"/>
<rect x="313.2" y="250.4" width="1.8" height="1.8" fill="#f4f2e6" stroke="#6b6b63" stroke-width="0.5"/>
<rect x="404.6" y="240.9" width="1.8" height="1.8" fill="#f4f2e6" stroke="#6b6b63" stroke-width="0.5"/>
<rect x="302.9" y="295.2" width="1.8" height="1.8" fill="#f4f2e6" stroke="#6b6b63" stroke-width="0.5"/>
<rect x="110.3" y="317.7" width="1.8" height="1.8" fill="#f4f2e6" stroke="#6b6b63" stroke-width="0.5"/>
<rect x="322.0" y="334.2" width="1.8" height="1.8" fill="#f4f2e6" stroke="#6b6b63" stroke-width="0.5"/>
<rect x="360.1" y="347.4" width="1.8" height="1.8" fill="#f4f2e6" stroke="#6b6b63" stroke-width="0.5"/>
<rect x="526.8" y="316.6" width="1.8" height="1.8" fill="#f4f2e6" stroke="#6b6b63" stroke-width="0.5"/>
<rect x="68.2" y="353.0" width="1.8" height="1.8" fill="#f4f2e6" stroke="#6b6b63" stroke-width="0.5"/>
<rect x="124.6" y="369.5" width="1.8" height="1.8" fill="#f4f2e6" stroke="#6b6b63" stroke-width="0.5"/>
<rect x="251.3" y="373.9" width="1.8" height="1.8" fill="#f4f2e6" stroke="#6b6b63" stroke-width="0.5"/>
<rect x="142.0" y="406.5" width="1.8" height="1.8" fill="#f4f2e6" stroke="#6b6b63" stroke-width="0.5"/>
<rect x="219.0" y="404.1" width="1.8" height="1.8" fill="#f4f2e6" stroke="#6b6b63" stroke-width="0.5"/>
<rect x="85.6" y="415.9" width="1.8" height="1.8" fill="#f4f2e6" stroke="#6b6b63" stroke-width="0.5"/>
<rect x="53.9" y="426.0" width="1.8" height="1.8" fill="#f4f2e6" stroke="#6b6b63" stroke-width="0.5"/>
<rect x="94.4" y="435.2" width="1.8" height="1.8" fill="#f4f2e6" stroke="#6b6b63" stroke-width="0.5"/>
<rect x="173.8" y="434.4" width="1.8" height="1.8" fill="#f4f2e6" stroke="#6b6b63" stroke-width="0.5"/>
<rect x="186.5" y="435.2" width="1.8" height="1.8" fill="#f4f2e6" stroke="#6b6b63" stroke-width="0.5"/>
<rect x="218.3" y="444.3" width="1.8" height="1.8" fill="#f4f2e6" stroke="#6b6b63" stroke-width="0.5"/>
<rect x="44.0" y="446.0" width="1.8" height="1.8" fill="#f4f2e6" stroke="#6b6b63" stroke-width="0.5"/>
<rect x="54.2" y="472.2" width="1.8" height="1.8" fill="#f4f2e6" stroke="#6b6b63" stroke-width="0.5"/>
<rect x="30.1" y="477.8" width="1.8" height="1.8" fill="#f4f2e6" stroke="#6b6b63" stroke-width="0.5"/>
<rect x="142.8" y="464.6" width="1.8" height="1.8" fill="#f4f2e6" stroke="#6b6b63" stroke-width="0.5"/>
<rect x="166.6" y="467.5" width="1.8" height="1.8" fill="#f4f2e6" stroke="#6b6b63" stroke-width="0.5"/>
<rect x="241.8" y="481.3" width="1.8" height="1.8" fill="#f4f2e6" stroke="#6b6b63" stroke-width="0.5"/>
<rect x="301.0" y="410.2" width="1.8" height="1.8" fill="#f4f2e6" stroke="#6b6b63" stroke-width="0.5"/>
<rect x="409.0" y="401.4" width="1.8" height="1.8" fill="#f4f2e6" stroke="#6b6b63" stroke-width="0.5"/>
<rect x="503.8" y="408.1" width="1.8" height="1.8" fill="#f4f2e6" stroke="#6b6b63" stroke-width="0.5"/>
<rect x="483.2" y="430.5" width="1.8" height="1.8" fill="#f4f2e6" stroke="#6b6b63" stroke-width="0.5"/>
<rect x="530.0" y="437.1" width="1.8" height="1.8" fill="#f4f2e6" stroke="#6b6b63" stroke-width="0.5"/>
<rect x="413.0" y="458.6" width="1.8" height="1.8" fill="#f4f2e6" stroke="#6b6b63" stroke-width="0.5"/>
<rect x="381.5" y="450.8" width="1.8" height="1.8" fill="#f4f2e6" stroke="#6b6b63" stroke-width="0.5"/>
<text transform="translate(141.3,179.1) scale(1.3,1)" class="mc" font-size="7.2" textLength="40.3" lengthAdjust="spacing">SWEDEN</text>
<text transform="translate(26.2,217.2) scale(1.3,1)" class="mc" font-size="7.2" textLength="38.5" lengthAdjust="spacing">NORWAY</text>
<text transform="translate(319.7,188.1) scale(1.3,1)" class="mc" font-size="7.2" textLength="41.3" lengthAdjust="spacing">FINLAND</text>
<text transform="translate(305.1,267.8) scale(1.3,1)" class="mc" font-size="5.2" textLength="31.8" lengthAdjust="spacing">ESTONIA</text>
<text transform="translate(317.3,300.4) scale(1.3,1)" class="mc" font-size="5.2" textLength="24.8" lengthAdjust="spacing">LATVIA</text>
<text transform="translate(274.2,325.2) scale(1.3,1)" class="mc" font-size="5.2" textLength="39.2" lengthAdjust="spacing">LITHUANIA</text>
<text transform="translate(242.8,336.6) scale(1.3,1)" class="mc" font-size="5.0" textLength="22.2" lengthAdjust="spacing">RUSSIA</text>
<text transform="translate(341.6,362.6) scale(1.3,1)" class="mc" font-size="5.4" textLength="35.7" lengthAdjust="spacing">BELARUS</text>
<text transform="translate(203.3,370.5) scale(1.3,1)" class="mc" font-size="5.6" textLength="29.3" lengthAdjust="spacing">POLAND</text>
<text transform="translate(41.6,387.8) scale(1.3,1)" class="mc" font-size="5.4" textLength="40.1" lengthAdjust="spacing">GERMANY</text>
<text transform="translate(46.1,315.5) scale(1.3,1)" class="mc" font-size="5.2" textLength="36.6" lengthAdjust="spacing">DENMARK</text>
<text transform="translate(392.8,421.9) scale(1.3,1)" class="mc" font-size="7.2" textLength="42.8" lengthAdjust="spacing">UKRAINE</text>
<text transform="translate(146.9,413.9) scale(1.3,1)" class="mc" font-size="5.2" textLength="33.6" lengthAdjust="spacing">CZECHIA</text>
<text transform="translate(203.3,429.8) scale(1.3,1)" class="mc" font-size="5.2" textLength="36.6" lengthAdjust="spacing">SLOVAKIA</text>
<text transform="translate(117.5,450.1) scale(1.3,1)" class="mc" font-size="5.2" textLength="31.8" lengthAdjust="spacing">AUSTRIA</text>
<text transform="translate(196.9,456.3) scale(1.3,1)" class="mc" font-size="5.4" textLength="35.4" lengthAdjust="spacing">HUNGARY</text>
<text transform="translate(7.9,456.3) scale(1.3,1)" class="mc" font-size="5.2" textLength="46.4" lengthAdjust="spacing">SWITZERLAND</text>
<text transform="translate(127.0,463.6) scale(1.3,1)" class="mc" font-size="4.8" textLength="31.2" lengthAdjust="spacing">SLOVENIA</text>
<text transform="translate(125.5,480.9) scale(1.3,1)" class="mc" font-size="5.2" textLength="30.5" lengthAdjust="spacing">CROATIA</text>
<text transform="translate(294.3,467.9) scale(1.3,1)" class="mc" font-size="5.4" textLength="34.2" lengthAdjust="spacing">ROMANIA</text>
<text transform="translate(355.4,446.1) scale(1.3,1)" class="mc" font-size="4.8" textLength="29.3" lengthAdjust="spacing">MOLDOVA</text>
<text transform="translate(-39.7,367.2) scale(1.3,1)" class="mc" font-size="5.2" textLength="56.8" lengthAdjust="spacing">NETHERLANDS</text>
<text transform="translate(82.6,241.0) scale(1.3,1)" class="ct" font-size="5.6" textLength="13.4" lengthAdjust="spacing">Oslo</text>
<text transform="translate(203.3,251.9) scale(1.3,1)" class="ct" font-size="5.6" textLength="32.4" lengthAdjust="spacing">Stockholm</text>
<text transform="translate(294.3,235.6) scale(1.3,1)" class="ct" font-size="5.6" textLength="23.6" lengthAdjust="spacing">Helsinki</text>
<text transform="translate(316.8,249.9) scale(1.3,1)" class="ct" font-size="5.6" textLength="18.7" lengthAdjust="spacing">Tallinn</text>
<text transform="translate(407.0,235.3) scale(1.3,1)" class="ct" font-size="5.6" textLength="15.3" lengthAdjust="spacing">Saint</text>
<text transform="translate(407.8,240.1) scale(1.3,1)" class="ct" font-size="5.6" textLength="32.4" lengthAdjust="spacing">Petersburg</text>
<text transform="translate(295.1,294.2) scale(1.3,1)" class="ct" font-size="5.6" textLength="13.8" lengthAdjust="spacing">Riga</text>
<text transform="translate(112.8,316.7) scale(1.3,1)" class="ct" font-size="5.6" textLength="37.9" lengthAdjust="spacing">Copenhagen</text>
<text transform="translate(323.7,333.4) scale(1.3,1)" class="ct" font-size="5.6" textLength="19.9" lengthAdjust="spacing">Vilnius</text>
<text transform="translate(361.0,346.4) scale(1.3,1)" class="ct" font-size="5.6" textLength="17.7" lengthAdjust="spacing">Minsk</text>
<text transform="translate(528.5,315.3) scale(1.3,1)" class="ct" font-size="5.6" textLength="27.5" lengthAdjust="spacing">Moscow</text>
<text transform="translate(69.9,351.8) scale(1.3,1)" class="ct" font-size="5.6" textLength="26.9" lengthAdjust="spacing">Hamburg</text>
<text transform="translate(125.5,368.5) scale(1.3,1)" class="ct" font-size="5.6" textLength="17.7" lengthAdjust="spacing">Berlin</text>
<text transform="translate(254.1,373.1) scale(1.3,1)" class="ct" font-size="5.6" textLength="22.6" lengthAdjust="spacing">Warsaw</text>
<text transform="translate(142.9,405.6) scale(1.3,1)" class="ct" font-size="5.6" textLength="22.0" lengthAdjust="spacing">Prague</text>
<text transform="translate(219.9,403.2) scale(1.3,1)" class="ct" font-size="5.6" textLength="25.7" lengthAdjust="spacing">Katowice</text>
<text transform="translate(48.4,400.9) scale(1.3,1)" class="ct" font-size="5.6" textLength="25.7" lengthAdjust="spacing">Frankfurt</text>
<text transform="translate(48.4,405.1) scale(1.3,1)" class="ct" font-size="5.6" textLength="23.2" lengthAdjust="spacing">am Main</text>
<text transform="translate(7.1,412.6) scale(1.3,1)" class="ct" font-size="5.6" textLength="37.9" lengthAdjust="spacing">Luxembourg</text>
<text transform="translate(88.1,414.7) scale(1.3,1)" class="ct" font-size="5.6" textLength="30.9" lengthAdjust="spacing">Nuremberg</text>
<text transform="translate(56.4,424.7) scale(1.3,1)" class="ct" font-size="5.6" textLength="24.4" lengthAdjust="spacing">Stuttgart</text>
<text transform="translate(95.8,434.2) scale(1.3,1)" class="ct" font-size="5.6" textLength="21.6" lengthAdjust="spacing">Munich</text>
<text transform="translate(155.3,433.4) scale(1.3,1)" class="ct" font-size="5.6" textLength="19.8" lengthAdjust="spacing">Vienna</text>
<text transform="translate(190.6,435.3) scale(1.3,1)" class="ct" font-size="5.6" textLength="29.9" lengthAdjust="spacing">Bratislava</text>
<text transform="translate(220.4,443.0) scale(1.3,1)" class="ct" font-size="5.6" textLength="28.6" lengthAdjust="spacing">Budapest</text>
<text transform="translate(43.7,444.9) scale(1.3,1)" class="ct" font-size="5.6" textLength="18.7" lengthAdjust="spacing">Zurich</text>
<text transform="translate(59.1,472.7) scale(1.3,1)" class="ct" font-size="5.6" textLength="15.3" lengthAdjust="spacing">Milan</text>
<text transform="translate(32.6,477.0) scale(1.3,1)" class="ct" font-size="5.6" textLength="13.4" lengthAdjust="spacing">Turin</text>
<text transform="translate(126.3,470.6) scale(1.3,1)" class="ct" font-size="5.6" textLength="27.7" lengthAdjust="spacing">Ljubljana</text>
<text transform="translate(172.3,468.7) scale(1.3,1)" class="ct" font-size="5.6" textLength="20.2" lengthAdjust="spacing">Zagreb</text>
<text transform="translate(243.8,480.3) scale(1.3,1)" class="ct" font-size="5.6" textLength="26.9" lengthAdjust="spacing">Belgrade</text>
<text transform="translate(303.0,409.3) scale(1.3,1)" class="ct" font-size="5.6" textLength="11.0" lengthAdjust="spacing">Lviv</text>
<text transform="translate(411.0,400.5) scale(1.3,1)" class="ct" font-size="5.6" textLength="12.2" lengthAdjust="spacing">Kiev</text>
<text transform="translate(505.8,407.5) scale(1.3,1)" class="ct" font-size="5.6" textLength="21.7" lengthAdjust="spacing">Kharkiv</text>
<text transform="translate(485.2,429.5) scale(1.3,1)" class="ct" font-size="5.6" textLength="19.9" lengthAdjust="spacing">Dnipro</text>
<text transform="translate(531.2,436.3) scale(1.3,1)" class="ct" font-size="5.6" textLength="25.4" lengthAdjust="spacing">Donetsk</text>
<text transform="translate(417.8,461.9) scale(1.3,1)" class="ct" font-size="5.6" textLength="18.6" lengthAdjust="spacing">Odesa</text>
<text transform="translate(376.9,456.9) scale(1.3,1)" class="ct" font-size="5.6" textLength="25.7" lengthAdjust="spacing">Kishinev</text>
<text transform="translate(336.9,485.4) scale(1.3,1)" class="ct" font-size="5.6" textLength="31.0" lengthAdjust="spacing">Bucharest</text>
<text transform="translate(-20.6,371.0) scale(1.3,1)" class="ct" font-size="5.6" textLength="39.1" lengthAdjust="spacing">Amsterdam</text>
<text transform="translate(-23.8,378.2) scale(1.3,1)" class="ct" font-size="5.6" textLength="31.8" lengthAdjust="spacing">The Hague</text>
<text transform="translate(222.3,178.3) scale(1.3,1)" class="wt" font-size="4.8" textLength="21.4" lengthAdjust="spacing">Gulf of</text>
<text transform="translate(220.7,183.5) scale(1.3,1)" class="wt" font-size="4.8" textLength="23.2" lengthAdjust="spacing">Bothnia</text>
<text transform="translate(43.2,278.5) scale(1.3,1)" class="wt" font-size="5.0" textLength="30.3" lengthAdjust="spacing">Skagerrak</text>
<text transform="translate(184.2,314.7) scale(1.3,1)" class="wt" font-size="5.0" textLength="31.5" lengthAdjust="spacing">Baltic Sea</text>
<text transform="translate(333.2,240.4) scale(1.3,1)" class="wt" font-size="4.8" textLength="20.2" lengthAdjust="spacing">Gulf of</text>
<text transform="translate(333.2,245.6) scale(1.3,1)" class="wt" font-size="4.8" textLength="21.4" lengthAdjust="spacing">Finland</text>
<text transform="translate(411.5,215.9) scale(1.3,1)" class="wt" font-size="4.0" textLength="12.5" lengthAdjust="spacing">Lake</text>
<text transform="translate(407.0,220.7) scale(1.3,1)" class="wt" font-size="4.0" textLength="18.9" lengthAdjust="spacing">Ladoga</text>
<text transform="translate(494.4,465.2) scale(1.3,1)" class="wt" font-size="5.0" textLength="28.7" lengthAdjust="spacing">Azov Sea</text>
</g>
<g id="mapicons" filter="url(#blur0)">
<g transform="translate(26.0,384.3)"><path d="M0,22.4 L0,10.2 Q0.2,9 1.2,8.4 L2.6,7.3 L4.6,8.8 L6,7.6 Q7,6.9 8,7.6 L9.6,8.8 L11.4,7.3 L13.6,8.6 Q14.8,9.2 14.8,10.4 L14.8,22.4 Z" fill="#440154"/><rect x="16.8" y="4.8" width="5" height="17.6" fill="#440154"/><path d="M16.8,3.6 L16.8,1.6 Q16.8,0 18.4,0 L20.2,0 Q21.8,0 21.8,1.6 L21.8,3.6 Z" fill="#440154"/><rect x="2.7" y="13.9" width="1.7" height="1.7" fill="#e9c9ee"/><rect x="6.4" y="13.9" width="1.7" height="1.7" fill="#e9c9ee"/><rect x="10.2" y="13.9" width="1.7" height="1.7" fill="#e9c9ee"/><rect x="2.7" y="17.4" width="1.7" height="1.7" fill="#e9c9ee"/><rect x="6.4" y="17.4" width="1.7" height="1.7" fill="#e9c9ee"/><rect x="10.2" y="17.4" width="1.7" height="1.7" fill="#e9c9ee"/></g>
<g transform="translate(21.0,372.2)"><path d="M0,22.4 L0,10.2 Q0.2,9 1.2,8.4 L2.6,7.3 L4.6,8.8 L6,7.6 Q7,6.9 8,7.6 L9.6,8.8 L11.4,7.3 L13.6,8.6 Q14.8,9.2 14.8,10.4 L14.8,22.4 Z" fill="#21918c"/><rect x="16.8" y="4.8" width="5" height="17.6" fill="#21918c"/><path d="M16.8,3.6 L16.8,1.6 Q16.8,0 18.4,0 L20.2,0 Q21.8,0 21.8,1.6 L21.8,3.6 Z" fill="#21918c"/><rect x="2.7" y="13.9" width="1.7" height="1.7" fill="#bff3ee"/><rect x="6.4" y="13.9" width="1.7" height="1.7" fill="#bff3ee"/><rect x="10.2" y="13.9" width="1.7" height="1.7" fill="#bff3ee"/><rect x="2.7" y="17.4" width="1.7" height="1.7" fill="#bff3ee"/><rect x="6.4" y="17.4" width="1.7" height="1.7" fill="#bff3ee"/><rect x="10.2" y="17.4" width="1.7" height="1.7" fill="#bff3ee"/></g>
<g transform="translate(520.3,245.1)"><path d="M0,22.4 L0,10.2 Q0.2,9 1.2,8.4 L2.6,7.3 L4.6,8.8 L6,7.6 Q7,6.9 8,7.6 L9.6,8.8 L11.4,7.3 L13.6,8.6 Q14.8,9.2 14.8,10.4 L14.8,22.4 Z" fill="#fde725"/><rect x="16.8" y="4.8" width="5" height="17.6" fill="#fde725"/><path d="M16.8,3.6 L16.8,1.6 Q16.8,0 18.4,0 L20.2,0 Q21.8,0 21.8,1.6 L21.8,3.6 Z" fill="#fde725"/><rect x="2.7" y="13.9" width="1.7" height="1.7" fill="#f4e88c"/><rect x="6.4" y="13.9" width="1.7" height="1.7" fill="#f4e88c"/><rect x="10.2" y="13.9" width="1.7" height="1.7" fill="#f4e88c"/><rect x="2.7" y="17.4" width="1.7" height="1.7" fill="#f4e88c"/><rect x="6.4" y="17.4" width="1.7" height="1.7" fill="#f4e88c"/><rect x="10.2" y="17.4" width="1.7" height="1.7" fill="#f4e88c"/></g>
</g>
</g>
<g id="chart">
<line x1="722.5" y1="422.5" x2="1822.5" y2="422.5" stroke="#cccccc" stroke-width="1"/>
<line x1="722.5" y1="358.5" x2="1822.5" y2="358.5" stroke="#cccccc" stroke-width="1"/>
<line x1="722.5" y1="295.5" x2="1822.5" y2="295.5" stroke="#cccccc" stroke-width="1"/>
<line x1="722.5" y1="232.5" x2="1822.5" y2="232.5" stroke="#cccccc" stroke-width="1"/>
<rect x="772.5" y="393.5" width="39.0" height="92.0" fill="#3e0c4a" stroke="#ffffff" stroke-width="1"/>
<rect x="811.5" y="395.5" width="39.0" height="90.0" fill="#2f837f" stroke="#ffffff" stroke-width="1"/>
<rect x="850.5" y="386.5" width="40.0" height="99.0" fill="#e2d240" stroke="#ffffff" stroke-width="1"/>
<rect x="919.5" y="389.5" width="39.0" height="96.0" fill="#3e0c4a" stroke="#ffffff" stroke-width="1"/>
<rect x="958.5" y="395.5" width="39.0" height="90.0" fill="#2f837f" stroke="#ffffff" stroke-width="1"/>
<rect x="997.5" y="396.5" width="40.0" height="89.0" fill="#e2d240" stroke="#ffffff" stroke-width="1"/>
<rect x="1066.5" y="393.5" width="39.0" height="92.0" fill="#3e0c4a" stroke="#ffffff" stroke-width="1"/>
<rect x="1105.5" y="390.5" width="39.0" height="95.0" fill="#2f837f" stroke="#ffffff" stroke-width="1"/>
<rect x="1213.5" y="396.5" width="39.0" height="89.0" fill="#3e0c4a" stroke="#ffffff" stroke-width="1"/>
<rect x="1360.5" y="389.5" width="39.0" height="96.0" fill="#3e0c4a" stroke="#ffffff" stroke-width="1"/>
<rect x="1399.5" y="394.5" width="39.0" height="91.0" fill="#2f837f" stroke="#ffffff" stroke-width="1"/>
<rect x="1507.5" y="384.5" width="39.0" height="101.0" fill="#3e0c4a" stroke="#ffffff" stroke-width="1"/>
<rect x="1546.5" y="409.5" width="39.0" height="76.0" fill="#2f837f" stroke="#ffffff" stroke-width="1"/>
<rect x="1585.5" y="378.5" width="40.0" height="107.0" fill="#e2d240" stroke="#ffffff" stroke-width="1"/>
<rect x="1654.5" y="381.5" width="39.0" height="104.0" fill="#3e0c4a" stroke="#ffffff" stroke-width="1"/>
<rect x="1693.5" y="428.5" width="39.0" height="57.0" fill="#2f837f" stroke="#ffffff" stroke-width="1"/>
<rect x="1732.5" y="375.5" width="40.0" height="110.0" fill="#e2d240" stroke="#ffffff" stroke-width="1"/>
<g fill="none" stroke="#808080" stroke-width="2.5" stroke-dasharray="9.25 4" clip-path="url(#axclip)"><path d="M1271.9,157.85 L1271.9,411.0 L1418.7,408.0 L1418.7,150"/><path d="M1712.8,157.85 L1712.8,392.1"/></g>
<rect x="722.5" y="168.5" width="1100.0" height="317.0" fill="none" stroke="#cccccc" stroke-width="1.25"/>
<text x="811.40" y="500" textLength="40.1" lengthAdjust="spacing" class="tk">2025-09</text>
<text x="958.40" y="500" textLength="40.1" lengthAdjust="spacing" class="tk">2025-10</text>
<text x="1105.40" y="500" textLength="40.1" lengthAdjust="spacing" class="tk">2025-11</text>
<text x="1252.40" y="500" textLength="40.1" lengthAdjust="spacing" class="tk">2025-12</text>
<text x="1399.40" y="500" textLength="40.1" lengthAdjust="spacing" class="tk">2026-01</text>
<text x="1546.40" y="500" textLength="40.1" lengthAdjust="spacing" class="tk">2026-02</text>
<text x="1693.40" y="500" textLength="40.1" lengthAdjust="spacing" class="tk">2026-03</text>
<text x="700.24" y="489.2" textLength="14.86" lengthAdjust="spacing" class="tk">0%</text>
<text x="693.87" y="426" textLength="21.23" lengthAdjust="spacing" class="tk">20%</text>
<text x="693.87" y="363" textLength="21.23" lengthAdjust="spacing" class="tk">40%</text>
<text x="693.87" y="299" textLength="21.23" lengthAdjust="spacing" class="tk">60%</text>
<text x="693.87" y="236" textLength="21.23" lengthAdjust="spacing" class="tk">80%</text>
<text x="687.61" y="172.3" textLength="26.89" lengthAdjust="spacing" class="tk">100%</text>
<text transform="translate(678.7,328.4) rotate(-90)" text-anchor="middle" class="yl">Production Activity</text>
</g>
<text x="1821.5" y="542.5" text-anchor="end" class="ft">*The activity data is sourced from LaGrand's satellite measurements</text>
</svg>
</body>
</html>
